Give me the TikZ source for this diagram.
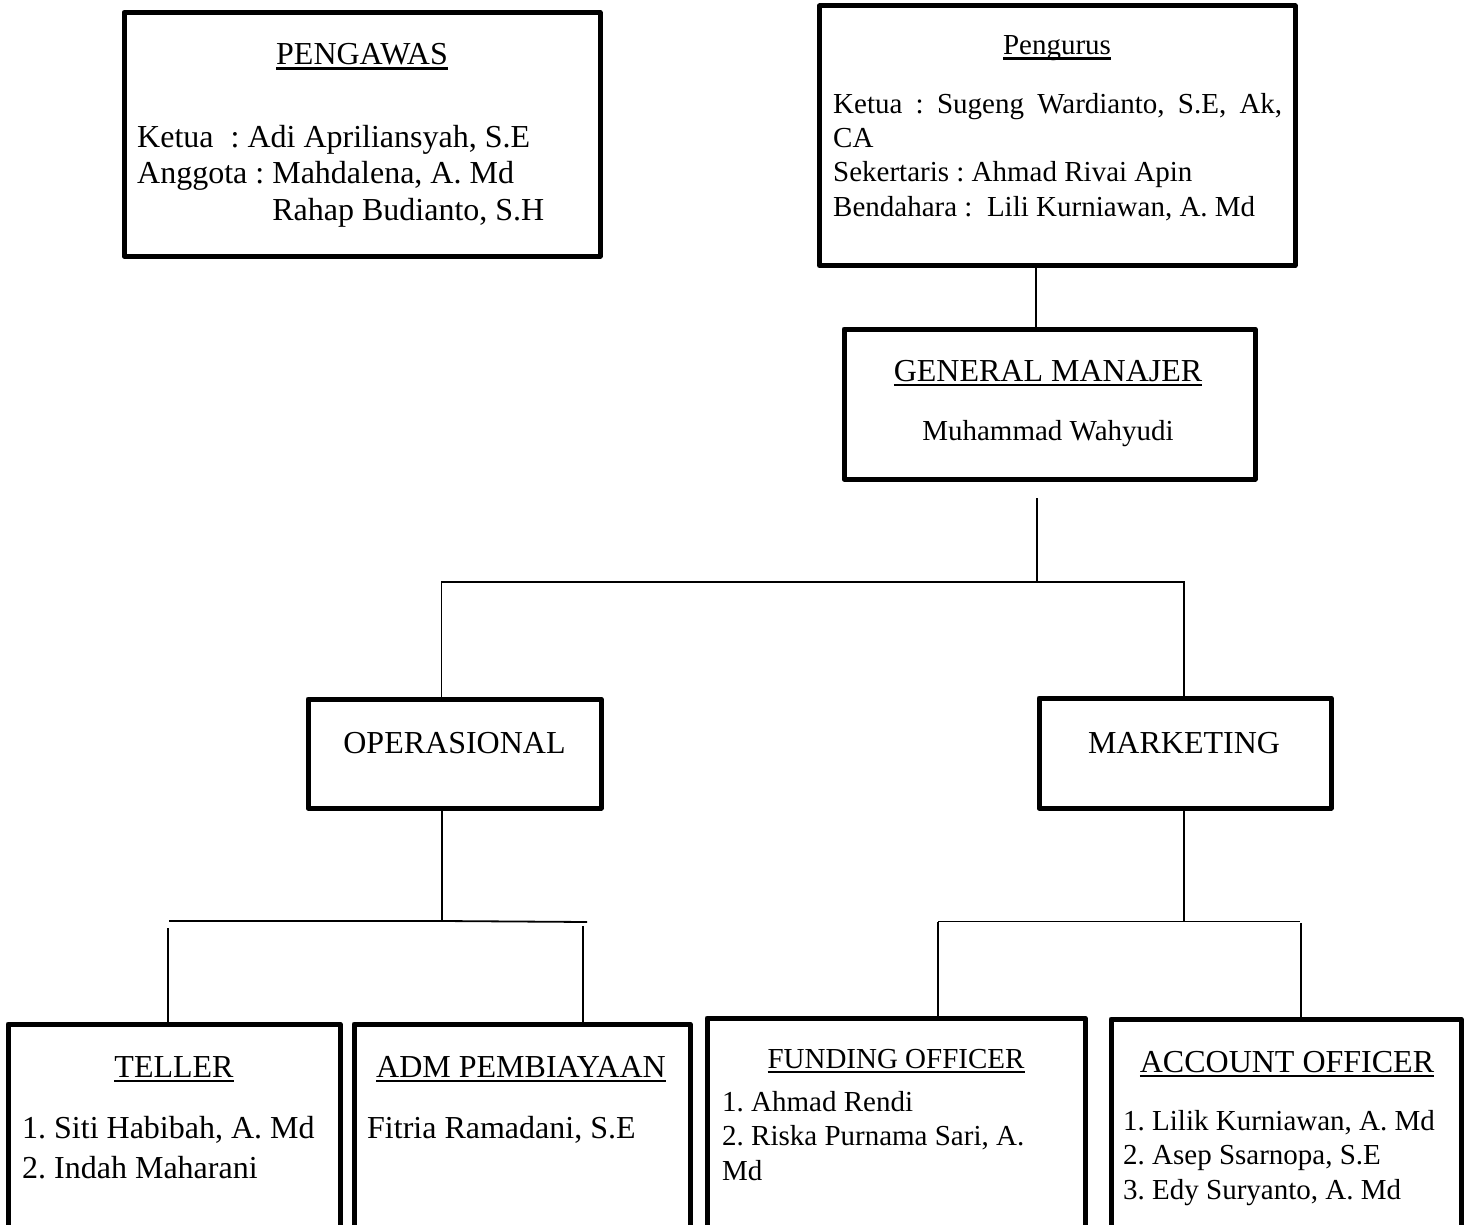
\documentclass[tikz,border=0pt]{standalone}
\usepackage{fontspec}
\setmainfont{Liberation Serif}
\frenchspacing
\newcommand{\garisbawah}[1]{\setbox0\hbox{#1}\rlap{\rule[-5pt]{\wd0}{2.5pt}}\box0}

\begin{document}
\begin{tikzpicture}[x=1pt, y=-1pt,
  box/.style={draw, line width=5pt, line join=round, inner sep=0pt, outer sep=0pt},
  garis/.style={line width=1.8pt},
  judul/.style={anchor=base, inner sep=0pt, font=\fontsize{32}{36}\selectfont},
  isi/.style={anchor=base west, inner sep=0pt, align=left}]
  \useasboundingbox (0,0) rectangle (1472,1225);
  \clip (0,0) rectangle (1472,1225);

  \node[box, minimum width=476pt, minimum height=243.5pt] (pengawas) at (362,134.25) {};
  \node[box, minimum width=475.5pt, minimum height=259.5pt] (pengurus) at (1057.25,135.75) {};
  \node[box, minimum width=411pt, minimum height=150pt] (gm) at (1049.5,404) {};
  \node[box, minimum width=293pt, minimum height=109pt] (oper) at (454.5,753.5) {};
  \node[box, minimum width=292pt, minimum height=110pt] (mark) at (1185,753) {};
  \node[box, minimum width=332pt, minimum height=276pt] (teller) at (174,1162) {};
  \node[box, minimum width=336pt, minimum height=276pt] (adm) at (522,1162) {};
  \node[box, minimum width=378pt, minimum height=282pt] (funding) at (896,1159) {};
  \node[box, minimum width=350pt, minimum height=281pt] (account) at (1286,1159.5) {};

  \node[judul] (pengawasjudul) at (362,65) {\garisbawah{PENGAWAS}};
  \node[isi, font=\fontsize{32}{36}\selectfont] (pengawasisi) at (137,220)
    {Ketua\hspace{17pt}: Adi Apriliansyah, S.E\\Anggota : Mahdalena, A. Md\\\phantom{Anggota : }Rahap Budianto, S.H};

  \node[judul, font=\fontsize{29}{34}\selectfont] (pengurusjudul) at (1057,55) {\garisbawah{Pengurus}};
  \node[isi, font=\fontsize{29}{34.3}\selectfont] (pengurusisi) at (833,216)
    {\makebox[449pt][s]{Ketua : Sugeng Wardianto, S.E, Ak,}\\CA\\Sekertaris : Ahmad Rivai Apin\\Bendahara :\ \ Lili Kurniawan, A. Md};

  \node[judul] (gmjudul) at (1048,381) {\garisbawah{GENERAL MANAJER}};
  \node[judul, font=\fontsize{29}{34}\selectfont] (gmnama) at (1048,440) {Muhammad Wahyudi};

  \node[judul] (operjudul) at (454.5,753) {OPERASIONAL};
  \node[judul] (markjudul) at (1184,753) {MARKETING};

  \node[judul] (tellerjudul) at (174,1077) {\garisbawah{TELLER}};
  \node[isi, font=\fontsize{32}{40}\selectfont] (tellerisi) at (22,1178)
    {1. Siti Habibah, A. Md\\2. Indah Maharani};
  \node[judul] (admjudul) at (521,1077) {\garisbawah{ADM PEMBIAYAAN}};
  \node[isi, font=\fontsize{32}{40}\selectfont] (admisi) at (367,1138) {Fitria Ramadani, S.E};
  \node[judul, font=\fontsize{29}{34}\selectfont] (fundingjudul) at (896,1068) {\garisbawah{FUNDING OFFICER}};
  \node[isi, font=\fontsize{29}{34.5}\selectfont] (fundingisi) at (722,1180)
    {1. Ahmad Rendi\\2. Riska Purnama Sari, A.\\Md};
  \node[judul] (accountjudul) at (1287,1072) {\garisbawah{ACCOUNT OFFICER}};
  \node[isi, font=\fontsize{29}{34.5}\selectfont] (accountisi) at (1123,1199)
    {1. Lilik Kurniawan, A. Md\\2. Asep Ssarnopa, S.E\\3. Edy Suryanto, A. Md};

  \coordinate (pengurusgm) at (1036,0);
  \draw[garis] (pengurusgm |- pengurus.south) -- (pengurusgm |- gm.north);
  \coordinate (gmujung) at (1037,498);
  \coordinate (gmcabang) at (1037,582);
  \draw[garis] (gmujung) -- (gmcabang);
  \coordinate (cabangoper) at (441.5,582);
  \coordinate (cabangmark) at (1184,582);
  \draw[garis] (cabangoper |- oper.north) -- (cabangoper) -- (cabangmark) -- (cabangmark |- mark.north);

  \coordinate (opertengah) at (442,921);
  \coordinate (operkiri) at (169,921);
  \coordinate (operkanan) at (587,922);
  \draw[garis] (opertengah |- oper.south) -- (opertengah);
  \draw[garis] (operkiri) -- (opertengah) -- (operkanan);
  \coordinate (keteller) at (168,928);
  \coordinate (keadm) at (583,926);
  \draw[garis] (keteller) -- (keteller |- teller.north);
  \draw[garis] (keadm) -- (keadm |- adm.north);

  \coordinate (marktengah) at (1184,921.5);
  \coordinate (markkiri) at (938,921.5);
  \coordinate (markkanan) at (1300,921.5);
  \draw[garis] (marktengah |- mark.south) -- (marktengah);
  \draw[garis] (markkiri) -- (markkanan);
  \draw[garis] (markkiri) -- (markkiri |- funding.north);
  \coordinate (keaccount) at (1301,923);
  \draw[garis] (keaccount) -- (keaccount |- account.north);
\end{tikzpicture}
\end{document}
